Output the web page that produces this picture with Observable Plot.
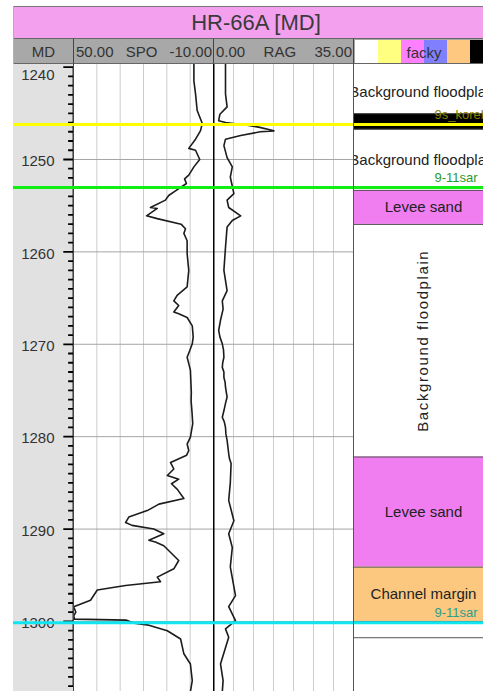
<!DOCTYPE html>
<html>
<head>
<meta charset="utf-8">
<script src="https://cdn.jsdelivr.net/npm/d3@7"></script>
<script src="https://cdn.jsdelivr.net/npm/@observablehq/plot@0.6"></script>
<style>
  html, body { margin: 0; padding: 0; overflow: hidden; background: #fff; }
  body { width: 483px; height: 691px; position: relative; font-family: "Liberation Sans", Arial, sans-serif; color: #333; }
  .abs { position: absolute; box-sizing: border-box; }
  #title { left: 14px; top: 6px; width: 484px; height: 32px; background: #f3a0ef; border-top: 1px solid #777;
           font-size: 22px; text-align: center; line-height: 31px; color: #3a3a3a; }
  .hdr { top: 38px; height: 26px; background: #a8a8a8; border-top: 1px solid #666; border-bottom: 1px solid #666;
         font-size: 15px; line-height: 25px; color: #333; }
  .hdr.track { display: flex; justify-content: space-between; padding: 0 1px 0 2px; border-left: 1px solid #444; }
  #edge { left: 13px; top: 6px; width: 1px; height: 685px; background: #b8b0a0; }
  .panel { top: 64px; height: 627px; overflow: hidden; }
</style>
</head>
<body>
<div id="edge" class="abs"></div>
<div id="title" class="abs">HR-66A [MD]</div>
<div class="abs hdr" style="left:14px;width:59px;text-align:center;">MD</div>
<div class="abs hdr track" style="left:73px;width:140px;"><span>50.00</span><span>SPO</span><span>-10.00</span></div>
<div class="abs hdr track" style="left:213px;width:140px;"><span>0.00</span><span>RAG</span><span>35.00</span></div>
<div id="faciesHeader" class="abs hdr" style="left:353px;width:140px;border-left:1px solid #444;"></div>
<div id="spoPanel" class="abs panel" style="left:73px;width:140px;"></div>
<div id="ragPanel" class="abs panel" style="left:213px;width:140px;"></div>
<div id="faciesPanel" class="abs panel" style="left:353px;width:140px;"></div>
<div id="mdPanel" class="abs panel" style="left:13px;width:60px;"></div>
<script>
// Visible measured-depth window of the log (m)
const depthWindow = [1239.72, 1307.58];

// Depth ruler
const majorDepths = [1240, 1250, 1260, 1270, 1280, 1290, 1300];
const minorDepths = d3.range(1240, 1308);
const depthLabels = ["1240", "1250", "1260", "1270", "1280", "1290", "1300"];

// SPO curve (scale 50 .. -10)
const spoDepth = [1239.6, 1241.5, 1242.9, 1244.7, 1246.1, 1246.9, 1247.8, 1248.8, 1249.0, 1250.0,
  1250.8, 1251.7, 1252.1, 1252.6, 1253.4, 1253.9, 1254.4, 1255.2, 1255.3, 1256.1,
  1256.4, 1257.0, 1257.5, 1258.0, 1258.8, 1260.2, 1262.0, 1263.8, 1264.7, 1265.3,
  1265.8, 1266.5, 1266.7, 1267.1, 1268.0, 1269.2, 1269.95, 1270.7, 1271.4, 1272.1,
  1272.8, 1274.0, 1275.2, 1276.1, 1277.4, 1278.6, 1280.05, 1280.8, 1281.5, 1282.0,
  1282.8, 1283.5, 1284.2, 1284.6, 1285.1, 1285.7,
  1286.7, 1287.3, 1288.0, 1288.7, 1289.3, 1289.6, 1290.0, 1290.5, 1291.2, 1291.4,
  1291.8, 1293.4, 1294.3, 1295.2, 1295.7, 1296.1, 1296.6, 1297.7, 1298.4, 1299.0,
  1299.4, 1299.75, 1299.85, 1300.2, 1300.4, 1301.0, 1301.9, 1303.5, 1304.6, 1306.4, 1307.6];
const spoValue = [-1.6, -1.6, -2.3, -3.0, -5.2, -4.4, -2.3, 0.6, -2.3, -4.1,
  -1.6, 0.6, 2.4, 1.6, 6.3, 9.2, 10.6, 17.0, 14.1, 18.7,
  14.1, 3.9, 2.0, 2.7, 1.3, 1.3, 0.6, 1.3, 5.6, 7.0,
  4.9, 7.0, 4.9, 1.3, -0.9, -1.3, -0.9, 0.2, 1.3, 0.6,
  -0.1, -0.3, -0.5, -0.4, -0.8, -1.1, -0.1, 1.3, 0.6, 1.5,
  8.4, 7.0, 9.8, 4.9, 8.0, 5.5,
  2.7, 13.4, 18.4, 26.3, 27.7, 24.9, 15.6, 11.3, 17.7, 14.9,
  11.3, 4.9, 7.0, 14.1, 12.7, 27.7, 39.8, 42.7, 49.9, 49.0,
  49.9, 49.5, 27.5, 24.0, 17.7, 9.8, 4.1, 2.7, -0.1, -0.9, -0.1];

// RAG curve (scale 0 .. 35)
const ragDepth = [1239.6, 1242.9, 1244.3, 1245.1, 1245.8, 1246.0, 1246.3, 1246.5, 1246.9, 1247.0,
  1247.4, 1247.8, 1248.5, 1249.8, 1250.8, 1251.9, 1253.7, 1254.4, 1255.2, 1256.1,
  1256.6, 1257.3, 1259.5, 1262.0, 1264.2, 1265.3, 1266.2, 1267.4, 1268.5, 1269.2,
  1269.95, 1270.6, 1271.4, 1272.0, 1272.5, 1273.0, 1273.6, 1274.1, 1274.65, 1275.2,
  1275.7, 1276.4, 1277.2, 1277.9, 1278.4, 1279.0, 1279.7, 1280.4, 1281.1, 1281.85,
  1282.4, 1282.9, 1285.0, 1286.9, 1289.1, 1290.5, 1292.0, 1294.1,
  1297.2, 1298.4, 1299.9, 1300.8, 1301.7, 1304.6, 1306.4, 1307.6];
const ragValue = [3.0, 3.0, 3.4, 1.6, 1.3, 3.0, 8.4, 11.3, 15.1, 11.7,
  6.8, 3.0, 2.6, 3.4, 4.7, 4.2, 5.1, 3.4, 3.8, 6.8,
  4.7, 3.4, 3.0, 2.6, 3.4, 2.2, 2.4, 1.75, 1.3, 1.6,
  2.2, 2.5, 2.6, 2.3, 2.2, 2.6, 2.6, 2.9, 3.0, 3.2,
  3.4, 3.0, 2.6, 2.2, 2.7, 3.0, 3.1, 3.4, 3.6, 3.8,
  4.0, 4.4, 4.2, 3.8, 5.1, 3.8, 4.7, 4.2,
  5.5, 3.8, 5.5, 3.0, 3.8, 1.75, 2.4, 2.2];

const spoGrid = [40, 30, 20, 10, 0];
const ragGrid = [5, 10, 15, 20, 25, 30];

// Well markers
const markerDepth = [1246.21, 1253.03, 1300.14];
const markerName = ["9s_koreh", "9-11sar", "9-11sar"];
const markerColor = ["#ffff00", "#11ee11", "#11e6f0"];
const markerTextColor = ["#8a8000", "#2a9a2a", "#2a9d8c"];

// Facies intervals
const faciesTop = [1240.3, 1245.04, 1246.75, 1253.35, 1257.03, 1282.2, 1294.12, 1300.0, 1301.76];
const faciesBase = [1245.04, 1246.75, 1253.35, 1257.03, 1282.2, 1294.12, 1300.0, 1301.76, 1332.5];
const faciesName = ["Background floodplain", "", "Background floodplain", "Levee sand",
  "Background floodplain", "Levee sand", "Channel margin", "", "Background floodplain"];
const faciesColor = ["#ffffff", "#000000", "#ffffff", "#f07ef0", "#ffffff", "#f07ef0", "#fcc880", "#ffffff", "#ffffff"];
const faciesVertical = [false, false, false, false, true, false, false, false, true];

// Facies legend swatches
const swatchColors = ["#ffffff", "#ffff80", "#ff80ff", "#8080ff", "#ffc880", "#000000"];
const faciesTrackName = "facky";

const font = '"Liberation Sans", Arial, sans-serif';
const H = 627;
const yScale = {domain: depthWindow, reverse: true, axis: null};

const spo = spoDepth.map((d, i) => ({d, v: spoValue[i]}));
const rag = ragDepth.map((d, i) => ({d, v: ragValue[i]}));
const markers = markerDepth.map((d, i) => ({d, name: markerName[i], color: markerColor[i], text: markerTextColor[i]}));
const facies = faciesTop.map((t, i) => ({top: t, base: faciesBase[i], name: faciesName[i], color: faciesColor[i], vertical: faciesVertical[i]}));
const labels = majorDepths.map((d, i) => ({d, label: depthLabels[i]}));

// Ruler comb: one continuous path running down the column's right edge,
// stepping in and back out at every metre (further at every ten metres)
const tickReach = d => majorDepths.includes(d) ? 0.83 : 0.91;
const comb = minorDepths.flatMap(d => [{x: 1, d}, {x: tickReach(d), d}, {x: 1, d}]);

// Marker lines, drawn in every track so they run across the whole log
const markerLines = () => Plot.ruleY(markers, {y: "d", stroke: "color", strokeWidth: 3});

// SPO track
document.getElementById("spoPanel").append(Plot.plot({
  width: 140, height: H, margin: 0,
  style: {fontFamily: font},
  x: {domain: [50, -10], axis: null},
  y: yScale,
  color: {type: "identity"},
  marks: [
    Plot.ruleX(spoGrid, {stroke: "#cccccc"}),
    Plot.ruleY(majorDepths.filter(d => d > 1240), {stroke: "#a4a4a4"}),
    Plot.line(spo, {x: "v", y: "d", stroke: "#1c1c1c", strokeWidth: 1.6}),
    Plot.ruleX([50], {stroke: "#444"}),
    markerLines()
  ]
}));

// RAG track
document.getElementById("ragPanel").append(Plot.plot({
  width: 140, height: H, margin: 0,
  style: {fontFamily: font},
  x: {domain: [0, 35], axis: null},
  y: yScale,
  color: {type: "identity"},
  marks: [
    Plot.ruleX(ragGrid, {stroke: "#cccccc"}),
    Plot.ruleY(majorDepths.filter(d => d > 1240), {stroke: "#a4a4a4"}),
    Plot.line(rag, {x: "v", y: "d", stroke: "#1c1c1c", strokeWidth: 1.6}),
    Plot.ruleX([0], {stroke: "#000", strokeWidth: 2}),
    markerLines()
  ]
}));

// Facies legend header
document.getElementById("faciesHeader").append(Plot.plot({
  width: 139, height: 24, marginTop: 1, marginBottom: 0, marginLeft: 0, marginRight: 0,
  style: {background: "transparent", fontFamily: font},
  x: {type: "band", domain: d3.range(swatchColors.length), padding: 0, axis: null},
  color: {type: "identity"},
  marks: [
    Plot.cell(swatchColors, {x: (d, i) => i, fill: d => d}),
    Plot.text([faciesTrackName], {text: d => d, frameAnchor: "middle", fontSize: 15, fill: "#333", dy: 1})
  ]
}));

// Facies track
const faciesSvg = Plot.plot({
  width: 140, height: H, margin: 0,
  style: {fontFamily: font},
  x: {domain: [0, 1], axis: null},
  y: yScale,
  color: {type: "identity"},
  marks: [
    Plot.rect(facies, {y1: "top", y2: "base", fill: "color"}),
    Plot.ruleY(facies.slice(0, -1), {y: "base", stroke: "#555"}),
    Plot.text(facies.filter(f => f.name && !f.vertical), {
      y: f => (f.top + f.base) / 2, text: "name", frameAnchor: "middle", fontSize: 15, fill: "#222"}),
    Plot.text(facies.filter(f => f.name && f.vertical), {
      y: f => (f.top + f.base) / 2, text: "name", frameAnchor: "middle", rotate: -90, fontSize: 15, fill: "#222"}),
    markerLines(),
    Plot.text(markers, {y: "d", text: "name", fill: "text", frameAnchor: "left", textAnchor: "start",
      dx: 81, dy: -10, fontSize: 13}),
    Plot.ruleX([0], {stroke: "#555"})
  ]
});
// Rotated facies names are set a little wider
d3.select(faciesSvg).selectAll("text")
  .filter(function() { return (this.getAttribute("transform") || "").includes("rotate"); })
  .style("letter-spacing", "1.6px");
document.getElementById("faciesPanel").append(faciesSvg);

// Depth ruler: the column spans 0..1 across, ticks sit against its right edge
document.getElementById("mdPanel").append(Plot.plot({
  width: 60, height: H, margin: 0,
  style: {background: "#e1e1e1", fontFamily: font},
  x: {domain: [0, 1], axis: null},
  y: yScale,
  color: {type: "identity"},
  marks: [
    Plot.line(comb, {x: "x", y: "d", stroke: "#000", strokeWidth: 1.8, strokeLinejoin: "bevel"}),
    Plot.text(labels.filter(l => l.d > 1240), {y: "d", text: "label", frameAnchor: "right", textAnchor: "end", dx: -19, dy: 2, fontSize: 15, fill: "#333"}),
    Plot.text(labels.filter(l => l.d === 1240), {y: "d", text: "label", frameAnchor: "right", textAnchor: "end", dx: -19, dy: 8, fontSize: 15, fill: "#333"}),
    markerLines()
  ]
}));
</script>
</body>
</html>
